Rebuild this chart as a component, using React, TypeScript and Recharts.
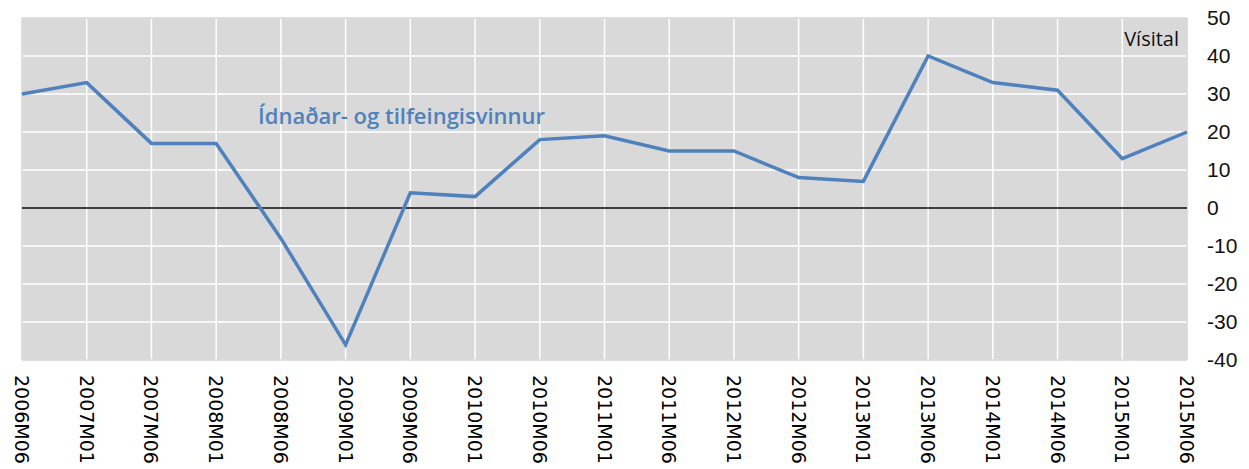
import { LineChart, Line, XAxis, YAxis, CartesianGrid, ReferenceLine, ReferenceArea } from "recharts";

const periods = [
  "2006M06", "2007M01", "2007M06", "2008M01", "2008M06", "2009M01", "2009M06",
  "2010M01", "2010M06", "2011M01", "2011M06", "2012M01", "2012M06", "2013M01",
  "2013M06", "2014M01", "2014M06", "2015M01", "2015M06",
];
const indexValues = [30, 33, 17, 17, -8, -36, 4, 3, 18, 19, 15, 15, 8, 7, 40, 33, 31, 13, 20];
const yTicks = [-40, -30, -20, -10, 0, 10, 20, 30, 40, 50];
const seriesName = "Ídnaðar- og tilfeingisvinnur";
const unitLabel = "Vísital";

const data = periods.map((p, i) => ({ period: p, value: indexValues[i] }));

function PeriodTick({ x, y, payload }: { x?: number; y?: number; payload?: { value: string } }) {
  return (
    <text
      transform={`translate(${x},${(y ?? 0) + 15}) rotate(90)`}
      textAnchor="start"
      dominantBaseline="central"
      fill="#000"
      fontSize={19}
      fontFamily="DejaVu Sans"
    >
      {payload?.value}
    </text>
  );
}

export default function App() {
  return (
    <div style={{ position: "absolute", left: 0, top: 0, width: 1249, height: 469, background: "#fff" }}>
      <LineChart width={1249} height={469} data={data} margin={{ top: 18, right: 0, left: 22, bottom: 0 }}>
        <CartesianGrid fill="#d9d9d9" stroke="#ffffff" strokeWidth={1.5} />
        <ReferenceArea y1={-40} y2={50} fill="none" stroke="#bfbfbf" strokeWidth={1} />
        <XAxis
          dataKey="period"
          interval={0}
          height={109}
          tickLine={false}
          axisLine={false}
          tickSize={0}
          tickMargin={0}
          tick={<PeriodTick />}
        />
        <YAxis
          orientation="right"
          width={62}
          domain={[-40, 50]}
          ticks={yTicks}
          interval={0}
          tickLine={false}
          axisLine={false}
          tickSize={0}
          tickMargin={20}
          tick={{ fill: "#111", fontSize: 21, fontFamily: "Liberation Sans" }}
        />
        <ReferenceLine y={0} stroke="#000" strokeWidth={1.3} />
        <Line
          type="linear"
          dataKey="value"
          stroke="#4f81bd"
          strokeWidth={3.5}
          dot={false}
          isAnimationActive={false}
        />
      </LineChart>
      <div
        style={{
          position: "absolute",
          left: 258,
          top: 101,
          color: "#4f81bd",
          fontFamily: "Open Sans",
          fontWeight: 600,
          fontSize: 22,
          lineHeight: "28px",
          whiteSpace: "nowrap",
        }}
      >
        {seriesName}
      </div>
      <div
        style={{
          position: "absolute",
          right: 1249 - 1179,
          top: 27,
          color: "#111",
          fontFamily: "Open Sans",
          fontSize: 20,
          lineHeight: "24px",
          whiteSpace: "nowrap",
        }}
      >
        {unitLabel}
      </div>
    </div>
  );
}
